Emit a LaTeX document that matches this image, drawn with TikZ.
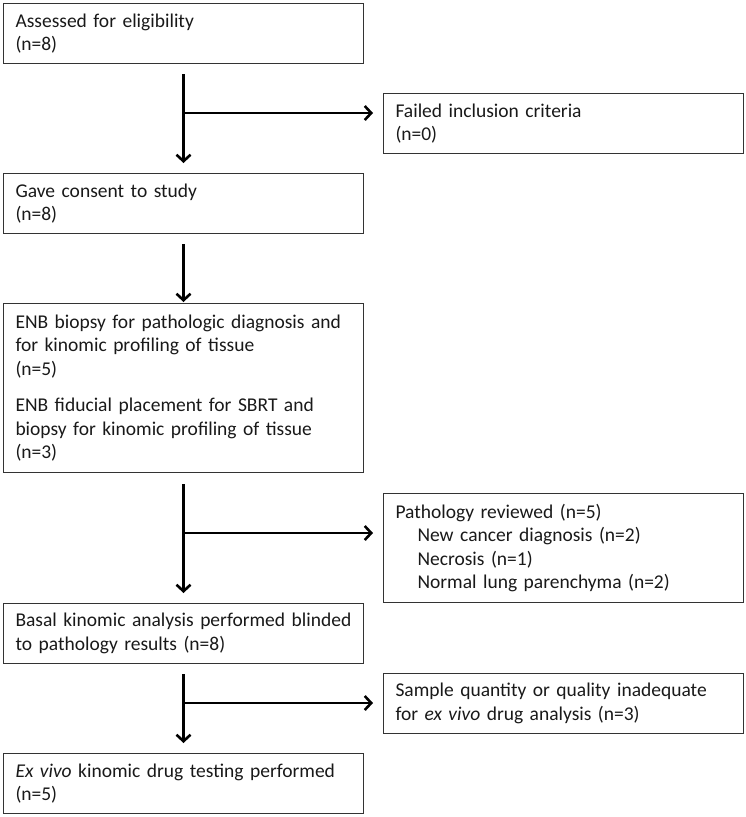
\documentclass[tikz,border=0pt]{standalone}
\usepackage{fontspec}
\setmainfont{Carlito}
\usetikzlibrary{arrows.meta,calc}
\begin{document}
\begin{tikzpicture}[x=1pt,y=-1pt,
  box/.style={draw=black!80, line width=1pt, anchor=north west, minimum width=360pt,
    text width=340pt, inner xsep=10pt, inner ysep=0pt, align=left,
    font=\fontsize{19.5}{23.5}\selectfont, text=black!90},
  arr/.style={line width=2.6pt, -{Straight Barb[length=6.5pt,width=14pt,line width=2.6pt]}}]
\useasboundingbox (0,0) rectangle (746,817);
\node[box, minimum height=60pt] (b1) at (3,3) {\hspace*{2pt}Assessed for eligibility\\\hspace*{2pt}(n=8)};
\node[box, minimum height=60pt] (b2) at (383,93) {\hspace*{2pt}Failed inclusion criteria\\\hspace*{2pt}(n=0)};
\node[box, minimum height=60pt] (b3) at (3,173) {\hspace*{2pt}Gave consent to study\\\hspace*{2pt}(n=8)};
\node[box, minimum height=169pt] (b4) at (3,303) {\hspace*{2pt}ENB biopsy for pathologic diagnosis and\\\hspace*{2pt}for kinomic profiling of tissue\\\hspace*{2pt}(n=5)\\[13pt]\hspace*{2pt}ENB fiducial placement for SBRT and\\\hspace*{2pt}biopsy for kinomic profiling of tissue\\\hspace*{2pt}(n=3)};
\node[box, minimum height=109pt] (b5) at (383,493) {\hspace*{2pt}Pathology reviewed (n=5)\\\hspace*{24pt}New cancer diagnosis (n=2)\\\hspace*{24pt}Necrosis (n=1)\\\hspace*{24pt}Normal lung parenchyma (n=2)};
\node[box, minimum height=60pt] (b6) at (3,603) {\hspace*{2pt}Basal kinomic analysis performed blinded\\\hspace*{2pt}to pathology results (n=8)};
\node[box, minimum height=60pt] (b7) at (383,673) {\hspace*{2pt}Sample quantity or quality inadequate\\\hspace*{2pt}for \emph{ex vivo} drug analysis (n=3)};
\node[box, minimum height=60pt] (b8) at (3,753) {\hspace*{2pt}\emph{Ex vivo} kinomic drug testing performed\\\hspace*{2pt}(n=5)};
\coordinate (j1) at (183,113);
\coordinate (j2) at (183,533);
\coordinate (j3) at (183,703);
\draw[arr, shorten <=10pt, shorten >=10pt] (b1.south) -- (b3.north);
\draw[arr] (j1) -- ([xshift=-10pt]j1 -| b2.west);
\draw[arr, shorten <=10pt, shorten >=1pt] (b3.south) -- (b4.north);
\draw[arr, shorten <=11pt, shorten >=10pt] (b4.south) -- (b6.north);
\draw[arr] (j2) -- ([xshift=-10pt]j2 -| b5.west);
\draw[arr, shorten <=10pt, shorten >=10pt] (b6.south) -- (b8.north);
\draw[arr] (j3) -- ([xshift=-10pt]j3 -| b7.west);
\end{tikzpicture}
\end{document}
